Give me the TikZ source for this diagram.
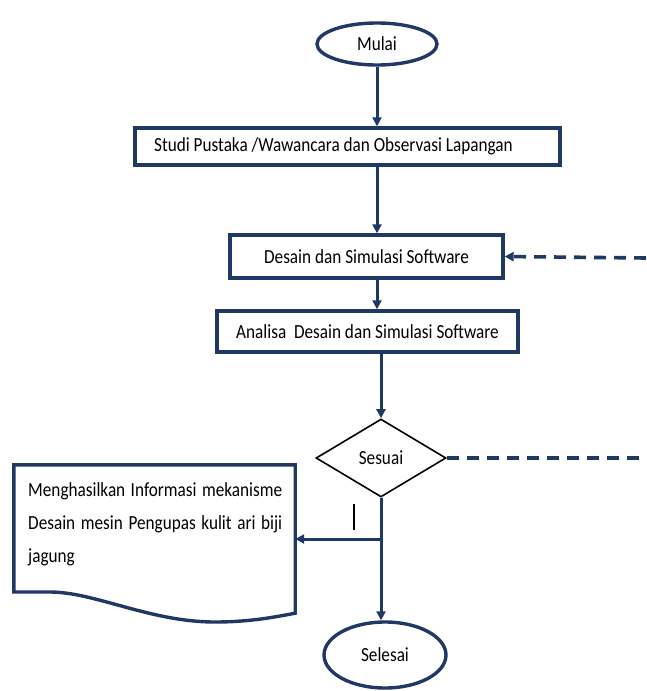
\documentclass[tikz,border=0pt]{standalone}
\usepackage{fontspec}
\setmainfont{Carlito}[FakeStretch=0.86]
\usepackage{tikz}
\usetikzlibrary{ shapes.geometric, % For ellipse and diamond
                 arrows.meta,
                 calc,
               }
\definecolor{flowblue}{RGB}{31,56,100}

\begin{document}
\begin{tikzpicture}[x=1pt, y=-1pt, % pixel-like units, y going down
  every node/.style={font=\fontsize{20}{22}\selectfont},
  terminal/.style={ellipse, draw=flowblue, line width=3.4pt, inner sep=0pt},
  process/.style={rectangle, draw=flowblue, line width=3.4pt, inner sep=0pt},
  decision/.style={diamond, draw=black, line width=1.6pt, inner sep=0pt, aspect=1.67},
  flow/.style={draw=flowblue, line width=3pt, -{Triangle[length=9pt,width=9pt]}},
  loop/.style={draw=flowblue, line width=3.6pt, dash pattern=on 12pt off 8pt},
]
  \useasboundingbox (0,0) rectangle (646,691);

  \node[terminal, minimum width=120pt, minimum height=42pt] (start) at (377,44) {Mulai};
  \node[process, minimum width=425pt, minimum height=37pt] (study) at (347.5,146.5) {\hspace*{-28pt}Studi Pustaka /Wawancara dan Observasi Lapangan};
  \node[process, minimum width=273pt, minimum height=43pt] (design) at (366.5,256.5) {Desain dan Simulasi Software};
  \node[process, minimum width=301pt, minimum height=41pt] (analysis) at (367.5,331.5) {Analisa~ Desain dan Simulasi Software};
  \node[decision, minimum width=130pt, minimum height=78pt] (check) at (381,458) {Sesuai};
  \node[terminal, minimum width=122pt, minimum height=66pt] (finish) at (385,655) {Selesai};

  % document shape for the result
  \node[minimum width=281pt, minimum height=148pt, inner sep=0pt] (doc) at (154.5,539) {};
  \node[text width=254pt, align=justify, anchor=north west, inner sep=0pt,
        font=\fontsize{20}{33}\selectfont] (doc_text) at (28,482)
    {\hyphenpenalty=10000 Menghasilkan Informasi mekanisme Desain mesin Pengupas kulit ari biji jagung};
  \draw[flowblue, line width=3.4pt, line join=miter]
    (doc.north west) -- (doc.north east) -- (doc.south east)
    .. controls (275,617) and (250,622) .. (215,622)
    .. controls (150,622) and (95,592) .. (50,592) -- (doc.south west |- 0,592) -- cycle;

  \coordinate (edge_top) at (646,258);
  \coordinate (edge_bottom) at (646,458);
  \coordinate (split) at (check.south |- doc.east);

  \draw[flow] (start) -- (start |- study.north);
  \draw[flow] (start |- study.south) -- (start |- design.north);
  \draw[flow] (start |- design.south) -- (start |- analysis.north);
  \draw[flow] (check.north |- analysis.south) -- (check.north);
  \draw[flow] (check.south) -- (check.south |- finish.north);
  \draw[flow] (split) -- (doc.east);

  \draw[loop, -{Triangle[length=9pt,width=9pt]}] (edge_top) -- (design.east);
  \draw[loop] (check.east) -- (edge_bottom);

  \draw[black, line width=2pt] (354,504) -- (354,530);
\end{tikzpicture}
\end{document}
